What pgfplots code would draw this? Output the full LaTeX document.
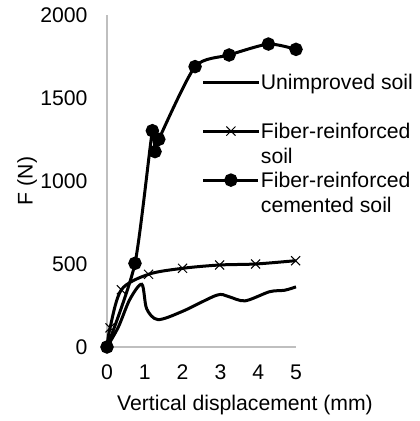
\documentclass[border=0pt]{standalone}
\usepackage{fontspec}
\setmainfont{Liberation Sans}
\usepackage{pgfplots}
\pgfplotsset{compat=1.18}
\begin{document}
\fontsize{10.6}{12.5}\selectfont
\begin{tikzpicture}
\useasboundingbox (-53.5pt,-37pt) rectangle (156pt,173.5pt);
\begin{axis}[
  at={(0,0)}, anchor=south west,
  scale only axis, width=94.5pt, height=166pt,
  xmin=0, xmax=5, ymin=0, ymax=2000,
  xtick={0,1,2,3,4,5}, ytick={0,500,1000,1500,2000},
  axis lines=left,
  axis line style={draw=black!25, line width=0.75pt, -},
  major tick length=0pt,
  clip=false,
  /pgf/number format/assume math mode=true,
  /pgf/number format/1000 sep={},
  tick label style={font=\fontsize{10.6}{12.5}\selectfont},
  yticklabel style={xshift=-6pt},
  xticklabel style={yshift=-5pt},
  xlabel={Vertical displacement (mm)},
  ylabel={F (N)},
  xlabel style={at={(axis description cs:0.73,-0.175)}, anchor=center},
  ylabel style={at={(axis description cs:-0.423,0.5)}, anchor=center, rotate=0},
  legend cell align=left,
  legend style={draw=none, fill=none, inner sep=0pt, row sep=1.5pt, column sep=0pt,
    at={(axis description cs:0.5,0.828)}, anchor=north west,
    nodes={inner sep=0.5pt, anchor=base west, text height=8pt, text depth=14pt,
      font=\fontsize{10.6}{12.5}\selectfont}},
  legend image code/.code={
    \draw[mark repeat=2, mark phase=2, yshift=3.7pt, #1] plot coordinates {(0pt,0pt) (13.75pt,0pt) (27.5pt,0pt)};
  },
]
\addplot[black, line width=1.5pt, smooth, no markers] coordinates {
  (0,0) (0.3,120) (0.6,285) (0.92,378) (1.05,230) (1.35,165) (2,215) (2.9,312) (3.2,305) (3.65,278) (4.3,333) (4.7,342) (5,362)
};
\addlegendentry{Unimproved soil}
\addplot[black, line width=1.5pt, smooth, mark=x, mark size=3.2pt, mark options={line width=0.5pt}] coordinates {
  (0,0) (0.08,115) (0.38,345) (1.1,438) (2,474) (2.98,494) (3.93,500) (4.99,520)
};
\addlegendentry{\begin{tabular}[t]{@{}l@{}}Fiber-reinforced\\soil\end{tabular}}
\addplot[black, line width=1.5pt, smooth, tension=0.4, mark=*, mark size=2.6pt] coordinates {
  (0,0) (0.74,504) (1.2,1303) (1.27,1177) (1.37,1251) (2.33,1689) (3.23,1759) (4.27,1825) (5,1793)
};
\addlegendentry{\begin{tabular}[t]{@{}l@{}}Fiber-reinforced\\cemented soil\end{tabular}}
\end{axis}
\end{tikzpicture}
\end{document}
